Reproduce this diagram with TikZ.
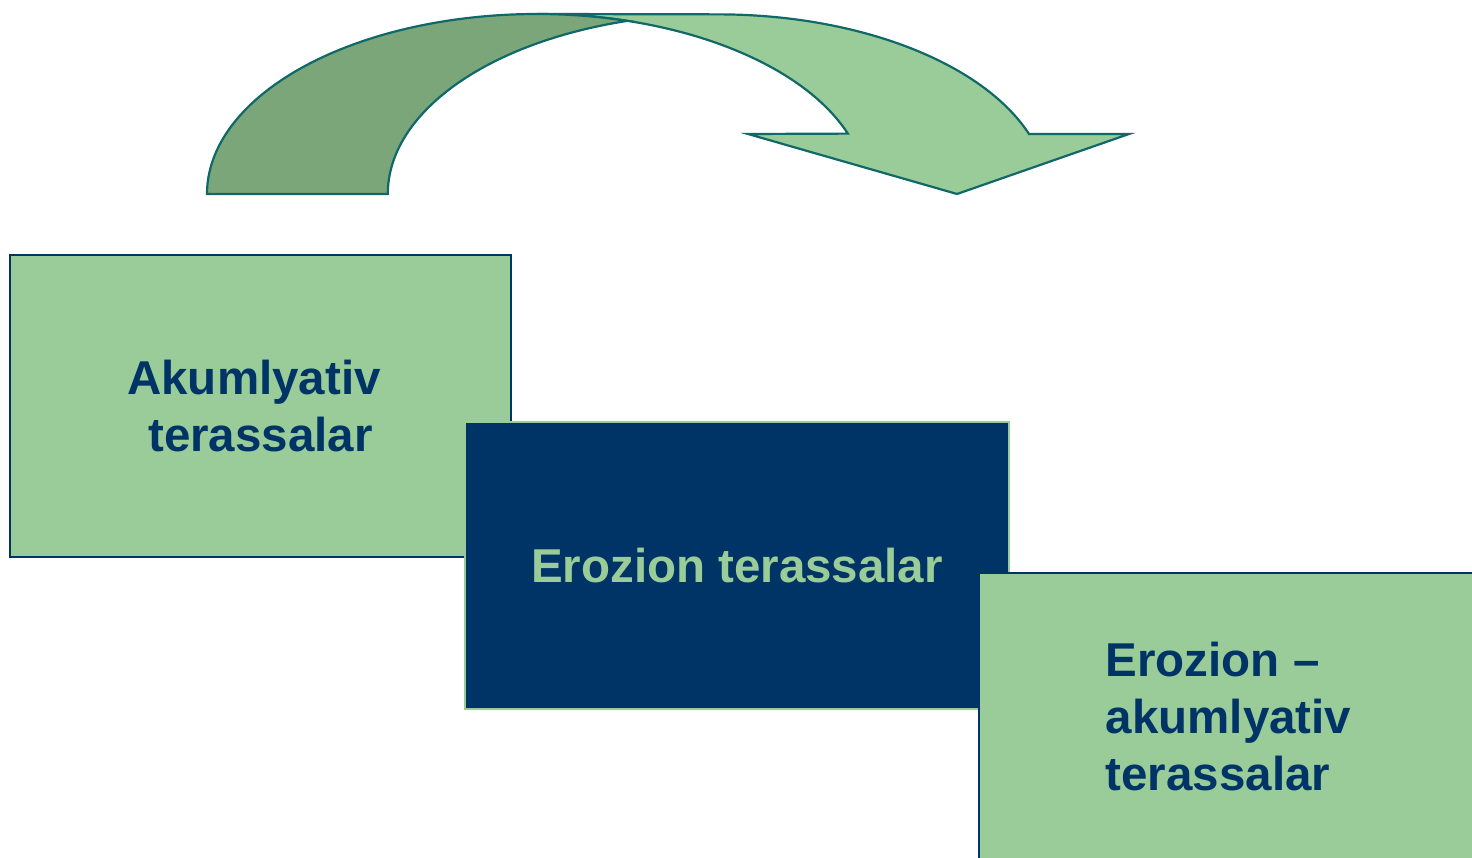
\documentclass[tikz,border=0pt]{standalone}
\usepackage{fontspec}
\setmainfont{Liberation Sans}
\definecolor{lgreen}{HTML}{99CC99}
\definecolor{dgreen}{HTML}{7AA67A}
\definecolor{navy}{HTML}{003366}
\definecolor{teal2}{HTML}{106868}
\begin{document}
\begin{tikzpicture}[x=1pt,y=1pt,
  boxtext/.style={font=\fontsize{47.5}{57}\selectfont\bfseries, align=center, inner sep=0pt},
  greenbox/.style={boxtext, fill=lgreen, draw=navy, line width=2pt, text=navy},
  navybox/.style={boxtext, fill=navy, draw=lgreen, line width=2pt, text=lgreen},
  arrowpart/.style={draw=teal2, line width=2.2pt, line join=miter}]
\useasboundingbox (0,0) rectangle (1472,857);
% curved arrow: front (light) piece
\path[arrowpart, fill=lgreen] (537,843) arc[start angle=90, end angle=19.6, x radius=330, y radius=180]
  -- (748,723) -- (957,663) -- (1129,723) -- (1029,723)
  arc[start angle=19.6, end angle=90, x radius=330, y radius=180] -- cycle;
% back (darker) piece
\path[arrowpart, fill=dgreen] (207,663) arc[start angle=180, end angle=74.1, x radius=330, y radius=180]
  arc[start angle=105.9, end angle=180, x radius=330, y radius=180] -- cycle;
% boxes
\node[greenbox, minimum width=501, minimum height=302] (akum) at (260.5,451) {Akumlyativ\hspace*{13pt}\\terassalar};
\node[navybox, minimum width=544, minimum height=287] (eroz) at (737,291.5) {Erozion terassalar};
\node[greenbox, align=left, minimum width=499, minimum height=288] (erak) at (1228.5,140) {Erozion –\\akumlyativ\\terassalar};
\end{tikzpicture}
\end{document}
